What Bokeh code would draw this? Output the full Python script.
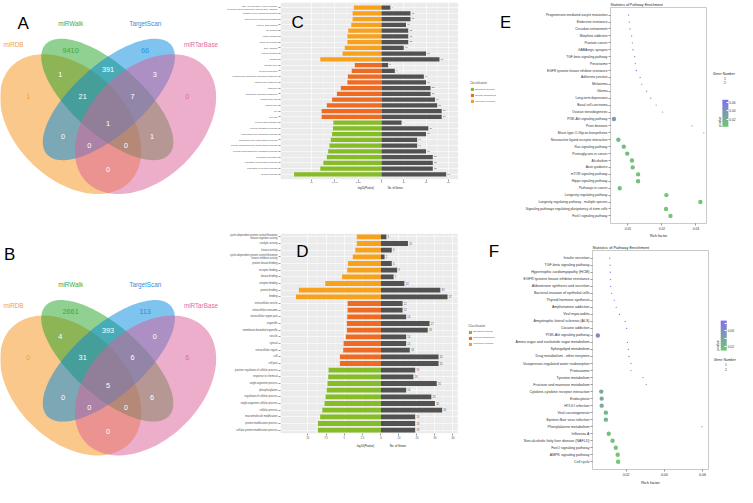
import math
from bokeh.plotting import figure
from bokeh.models import (Range1d, FactorRange, ColumnDataSource, FixedTicker,
                          CustomJSTickFormatter, PrintfTickFormatter, Legend,
                          LegendItem, ColorBar, LinearColorMapper, BoxAnnotation)
from bokeh.layouts import row, column
from bokeh.embed import file_html
from bokeh.resources import INLINE
from bokeh.core.properties import value

FONT = "Liberation Sans"
SX = 737 / 753
SY = 487 / 503
NB = "\u00a0"


def P(v, s):
    return int(round(v * s))

# ============================ DATA ============================
venn_set_names = ["miRDB", "miRWalk", "TargetScan", "miRTarBase"]
venn_region_names = ["miRDB", "miRWalk", "TargetScan", "miRTarBase",
                     "miRDB&miRWalk", "miRWalk&TargetScan", "TargetScan&miRTarBase",
                     "miRDB&miRWalk&TargetScan", "miRWalk&TargetScan&miRTarBase", "all",
                     "miRDB&TargetScan", "miRWalk&miRTarBase",
                     "miRDB&TargetScan&miRTarBase", "miRDB&miRWalk&miRTarBase", "miRDB&miRTarBase"]
venn_a_counts = [1, 9410, 66, 0, 1, 391, 3, 21, 7, 1, 0, 1, 0, 0, 0]
venn_b_counts = [0, 2661, 113, 6, 4, 393, 0, 31, 6, 5, 0, 6, 0, 0, 0]

classes = ["Biological Process", "Cellular Component", "Molecular Function"]

c_mf_terms = ["RNA polymerase II core promoter\nproximal region sequence-specific DNA binding",
              "organic cyclic compound binding", "heterocyclic compound binding",
              "nucleic acid binding", "ion binding", "cation binding", "metal ion binding",
              "DNA binding", "protein binding", "binding"]
c_mf_logp = [6.3, 6.6, 6.6, 6.9, 7.6, 7.8, 7.8, 8.4, 8.9, 14.0]
c_mf_genes = [4, 13, 13, 11, 12, 12, 12, 10, 20, 26]
c_cc_terms = ["growth cone", "neuron projection", "intracellular membrane-bounded organelle",
              "intracellular organelle", "organelle", "membrane-bounded organelle",
              "intracellular part", "intracellular", "cell", "cell part"]
c_cc_logp = [6.1, 6.8, 7.7, 7.8, 9.3, 10.2, 11.3, 12.5, 13.7, 13.7]
c_cc_genes = [3, 6, 19, 20, 22, 22, 24, 25, 27, 27]
c_bp_terms = ["neuron differentiation", "cellular metabolic process",
              "macromolecule metabolic process", "macromolecule biosynthetic process",
              "cellular macromolecule biosynthetic process",
              "cellular macromolecule metabolic process", "biological regulation",
              "regulation of biological process", "regulation of cellular process",
              "cellular process"]
c_bp_logp = [11.0, 11.1, 11.3, 11.6, 11.9, 12.2, 12.5, 13.3, 14.0, 20.0]
c_bp_genes = [9, 21, 20, 16, 16, 20, 23, 23, 23, 29]
c_logp_ticks = [16, 10.67, 5.33, 0]
c_gene_ticks = [10, 20, 30]

d_mf_terms = ["cyclin-dependent protein serine/threonine kinase regulator activity",
              "catalytic activity", "kinase activity",
              "cyclin-dependent protein serine/threonine kinase inhibitor activity",
              "protein kinase binding", "receptor binding", "kinase binding",
              "enzyme binding", "protein binding", "binding"]
d_mf_logp = [3.3, 3.3, 3.5, 3.85, 4.5, 4.6, 5.3, 7.6, 11.2, 11.6]
d_mf_genes = [3, 15, 6, 2, 6, 9, 7, 13, 33, 37]
d_cc_terms = ["extracellular vesicle", "extracellular exosome", "extracellular region part",
              "organelle", "membrane-bounded organelle", "vesicle", "cytosol",
              "extracellular region", "cell", "cell part"]
d_cc_logp = [4.55, 4.55, 4.6, 4.65, 4.65, 4.8, 5.1, 5.15, 5.6, 5.6]
d_cc_genes = [12, 12, 14, 27, 26, 14, 14, 16, 32, 32]
d_bp_terms = ["positive regulation of cellular process", "response to chemical",
              "single-organism process", "phosphorylation", "regulation of cellular process",
              "single-organism cellular process", "cellular process",
              "macromolecule modification", "protein modification process",
              "cellular protein modification process"]
d_bp_logp = [7.15, 7.2, 7.3, 7.4, 7.55, 7.7, 8.0, 8.3, 8.6, 8.6]
d_bp_genes = [19, 18, 31, 14, 28, 30, 34, 19, 19, 19]
d_logp_ticks = [10, 7.5, 5, 2.5, 0]
d_gene_ticks = [10, 20, 30, 40]

e_terms = ["Progesterone-mediated oocyte maturation", "Endocrine resistance",
           "Circadian entrainment", "Morphine addiction", "Prostate cancer",
           "GABAergic synapse", "TGF-beta signaling pathway", "Peroxisome",
           "EGFR tyrosine kinase inhibitor resistance", "Adherens junction", "Melanoma",
           "Glioma", "Long-term depression", "Basal cell carcinoma",
           "Ovarian steroidogenesis", "PI3K-Akt signaling pathway", "Prion diseases",
           "Mucin type O-Glycan biosynthesis", "Neuroactive ligand-receptor interaction",
           "Ras signaling pathway", "Proteoglycans in cancer", "Alcoholism", "Axon guidance",
           "mTOR signaling pathway", "Hippo signaling pathway", "Pathways in cancer",
           "Longevity regulating pathway", "Longevity regulating pathway - multiple species",
           "Signaling pathways regulating pluripotency of stem cells",
           "FoxO signaling pathway"]
e_rich = [0.0102, 0.0104, 0.0106, 0.0111, 0.0113, 0.0115, 0.0120, 0.0122, 0.0125, 0.0136,
          0.0141, 0.0155, 0.0167, 0.0183, 0.0202, 0.0059, 0.0288, 0.0323, 0.0072, 0.0088,
          0.0098, 0.0112, 0.0114, 0.0130, 0.0130, 0.0076, 0.0213, 0.0313, 0.0212, 0.0225]
e_genes = [1, 1, 1, 1, 1, 1, 1, 1, 1, 1, 1, 1, 1, 1, 1, 2, 1, 1, 2, 2,
           2, 2, 2, 2, 2, 2, 2, 2, 2, 2]
e_pval = [0.065, 0.064, 0.063, 0.060, 0.059, 0.058, 0.056, 0.055, 0.054, 0.049,
          0.048, 0.043, 0.040, 0.037, 0.033, 0.036, 0.026, 0.024, 0.012, 0.010,
          0.009, 0.008, 0.008, 0.006, 0.006, 0.004, 0.004, 0.003, 0.003, 0.002]
e_x_ticks = [0.01, 0.02, 0.03]
e_pval_ticks = [0.02, 0.04, 0.06]

f_terms = ["Insulin secretion", "TGF-beta signaling pathway",
           "Hypertrophic cardiomyopathy (HCM)", "EGFR tyrosine kinase inhibitor resistance",
           "Aldosterone synthesis and secretion", "Bacterial invasion of epithelial cells",
           "Thyroid hormone synthesis", "Amphetamine addiction", "Viral myocarditis",
           "Amyotrophic lateral sclerosis (ALS)", "Cocaine addiction",
           "PI3K-Akt signaling pathway", "Amino sugar and nucleotide sugar metabolism",
           "Sphingolipid metabolism", "Drug metabolism - other enzymes",
           "Vasopressin-regulated water reabsorption", "Proteasome", "Tyrosine metabolism",
           "Fructose and mannose metabolism", "Cytokine-cytokine receptor interaction",
           "Endocytosis", "HTLV-I infection", "Viral carcinogenesis",
           "Epstein-Barr virus infection", "Phenylalanine metabolism", "Influenza A",
           "Non-alcoholic fatty liver disease (NAFLD)", "FoxO signaling pathway",
           "AMPK signaling pathway", "Cell cycle"]
f_rich = [0.0114, 0.0116, 0.0117, 0.0119, 0.0119, 0.0124, 0.0138, 0.0148, 0.0165, 0.0195,
          0.0203, 0.0052, 0.0207, 0.0212, 0.0215, 0.0225, 0.0225, 0.0288, 0.0305, 0.0070,
          0.0072, 0.0072, 0.0094, 0.0094, 0.0597, 0.0109, 0.0129, 0.0146, 0.0156, 0.0158]
f_genes = [1, 1, 1, 1, 1, 1, 1, 1, 1, 1, 1, 2, 1, 1, 1, 1, 1, 1, 1, 2,
           2, 2, 2, 2, 1, 2, 2, 2, 2, 2]
f_pval = [0.085, 0.084, 0.084, 0.083, 0.083, 0.082, 0.080, 0.078, 0.075, 0.070,
          0.069, 0.060, 0.068, 0.067, 0.066, 0.064, 0.064, 0.055, 0.053, 0.035,
          0.034, 0.034, 0.026, 0.026, 0.030, 0.016, 0.013, 0.011, 0.010, 0.010]
f_x_ticks = [0.02, 0.04, 0.06]
f_pval_ticks = [0.02, 0.04, 0.06, 0.08]

gene_legend_values = [1, 2]

# ============================ STYLE / LAYOUT ============================
SET_FILL = ["#F39115", "#21A121", "#0087DF", "#DB5D97"]
SET_TEXT = ["#F5A034", "#3DAA3D", "#2C93DB", "#E06CA3"]
ELL_CX = [71.7, 109.2, 110.8, 148.3]
ELL_CY = [127.7, 102.2, 102.2, 127.7]
ELL_A = [84.9, 85.0, 85.0, 84.9]
ELL_B = [56.7, 35.7, 35.7, 56.7]
ELL_ANG = [-45, -42, 42, 45]
SET_LABEL_XY = [(13.3, 45), (71.7, 23.3), (148, 23.3), (205, 45)]
REGION_XY = [(28.3, 99), (71.7, 51.7), (147.7, 51.7), (191, 99), (61, 76.7), (110, 71),
             (157.7, 76.7), (84, 99), (135, 99), (110, 127.3), (64, 140), (155, 140),
             (90.7, 150), (128.3, 150), (110, 175)]
CLASS_COLOR = {"Biological Process": "#86BD26", "Cellular Component": "#F06B22",
               "Molecular Function": "#F7A11C"}
GREY_BAR = "#525252"
TXT = "#4D4D4D"
SIZE_PX = {1: 1.3, 2: 4.4}

COL2_X0, COL3_X0 = 227, 522
COL1_W = P(COL2_X0, SX)
COL2_W = P(COL3_X0 - COL2_X0, SX)
COL3_W = 737 - COL1_W - COL2_W


def lerp_palette(c1, c2, n):
    a = [int(c1[i:i + 2], 16) for i in (1, 3, 5)]
    b = [int(c2[i:i + 2], 16) for i in (1, 3, 5)]
    out = []
    for k in range(n):
        t = k / (n - 1)
        out.append("#%02x%02x%02x" % tuple(int(round(a[j] + (b[j] - a[j]) * t)) for j in range(3)))
    return out

PALETTE = lerp_palette("#72C872", "#8470EE", 64)
MAPPER_E = LinearColorMapper(palette=PALETTE, low=0.0015, high=0.066)
MAPPER_F = LinearColorMapper(palette=PALETTE, low=0.008, high=0.087)


def wrap2(t, maxlen):
    if "\n" in t or len(t) <= maxlen:
        return t
    words = t.split(" ")
    best = None
    for i in range(1, len(words)):
        a, b = " ".join(words[:i]), " ".join(words[i:])
        m = max(len(a), len(b))
        if best is None or m < best[0]:
            best = (m, a + "\n" + b)
    return best[1]


def ellipse_outline(cx, cy, a, b, ang_deg, n=160):
    phi = math.radians(ang_deg)
    xs, ys = [], []
    for k in range(n):
        t = 2 * math.pi * k / n
        ex, ey = a * math.cos(t), b * math.sin(t)
        xs.append(cx + ex * math.cos(phi) - ey * math.sin(phi))
        ys.append(cy + ex * math.sin(phi) + ey * math.cos(phi))
    return xs, ys


def plain_legend(lg, label_px, label_color, gw, gh, lh, standoff):
    lg.label_text_font = FONT
    lg.label_text_font_size = label_px
    lg.label_text_color = label_color
    lg.glyph_width = gw
    lg.glyph_height = gh
    lg.label_height = lh
    lg.label_standoff = standoff
    lg.padding = 0
    lg.margin = 0
    lg.spacing = 0
    lg.border_line_color = None
    lg.background_fill_alpha = 0
    return lg

# ---------------------------- Venn ----------------------------

def venn_fig(counts, letter, letter_xy, y0, y1, dy, h):
    p = figure(width=COL1_W, height=h, x_range=Range1d(0, COL2_X0), y_range=Range1d(-y1, -y0),
               output_backend="svg", toolbar_location=None, min_border=0,
               x_axis_location=None, y_axis_location=None)
    p.xgrid.visible = False
    p.ygrid.visible = False
    p.outline_line_color = None
    xs, ys = [], []
    for cx, cy, a, b, ang in zip(ELL_CX, ELL_CY, ELL_A, ELL_B, ELL_ANG):
        ex, ey = ellipse_outline(cx, -(cy + dy), a, b, ang)
        xs.append(ex)
        ys.append(ey)
    p.patches(xs=xs, ys=ys, fill_color=SET_FILL, fill_alpha=0.5, line_color=None)
    p.text(x=[xy[0] for xy in SET_LABEL_XY], y=[-(xy[1] + dy) for xy in SET_LABEL_XY],
           text=venn_set_names, text_color=SET_TEXT, text_font=value(FONT),
           text_font_size="6.3px", text_align="center", text_baseline="middle")
    cols = SET_TEXT + ["white"] * (len(counts) - 4)
    p.text(x=[xy[0] for xy in REGION_XY], y=[-(xy[1] + dy) for xy in REGION_XY],
           text=[str(c) for c in counts], text_color=cols, text_font=value(FONT),
           text_font_size="7.3px", text_align="center", text_baseline="middle")
    p.text(x=[letter_xy[0]], y=[-letter_xy[1]], text=[letter], text_color="black",
           text_font=value(FONT), text_font_size="17px", text_align="center",
           text_baseline="middle")
    return p

# ---------------------------- GO bar panels ----------------------------
JS_FMT = """
let k = 0, d = Infinity;
for (let i = 0; i < pos.length; i++) { const e = Math.abs(pos[i] - tick); if (e < d) { d = e; k = i; } }
return lab[k];
"""


def axis_style(ax, font_px, color):
    ax.axis_line_color = None
    ax.major_tick_line_color = "#333333"
    ax.major_tick_line_width = 0.5
    ax.major_tick_out = 2
    ax.major_tick_in = 0
    ax.minor_tick_line_color = None
    ax.major_label_text_font = FONT
    ax.major_label_text_font_size = "%.1fpx" % font_px
    ax.major_label_text_color = color
    ax.major_label_standoff = 1


def bar_fig(groups, fig_h, row_y0, frame, panel_right, zero_x, l_ppu, g_ppu, l_ticks,
            g_ticks, font_px, pad, letters, title_text, legend_xy):
    # frame spans to the column edge; the grey ggplot panel ends at panel_right
    xl, yt, xr, yb = frame
    bl = P(xl - COL2_X0, SX)
    fw = P(xr - xl, SX)
    br = COL2_W - bl - fw
    bt = P(yt - row_y0, SY)
    fh = P(yb - yt, SY)
    bb = fig_h - bt - fh
    L0, L1 = (zero_x - xl) / l_ppu, -(xr - zero_x) / l_ppu
    G0, G1 = -(zero_x - xl) / g_ppu, (xr - zero_x) / g_ppu
    cats, genes_all = [], []
    for cls, terms, logp, genes in groups:
        cats += [wrap2(t, 44) for t in terms]
        genes_all += genes
    p = figure(width=COL2_W, height=fig_h, x_range=Range1d(L0, L1),
               y_range=FactorRange(factors=cats[::-1], range_padding=pad,
                                   range_padding_units="absolute"),
               output_backend="svg", toolbar_location=None,
               min_border_left=bl, min_border_right=br, min_border_top=bt,
               min_border_bottom=bb)
    p.extra_x_ranges = {"genes": Range1d(G0, G1)}
    p.background_fill_color = "white"
    p.border_fill_color = "white"
    p.outline_line_color = None

    def px_to_main(xpx):
        return L0 + (xpx - xl) / (xr - xl) * (L1 - L0)
    p.add_layout(BoxAnnotation(left=L0, right=px_to_main(panel_right), fill_color="#EBEBEB",
                               fill_alpha=1, line_color=None, level="image"))

    def to_main(g):
        return L0 + (g - G0) / (G1 - G0) * (L1 - L0)
    tick_pos = list(l_ticks) + [to_main(g) for g in g_ticks]
    tick_lab = [("%g" % t) for t in l_ticks] + [str(g) for g in g_ticks]
    sp = sorted(tick_pos)
    minor = [(sp[i] + sp[i + 1]) / 2 for i in range(len(sp) - 1)]
    p.xgrid.ticker = FixedTicker(ticks=tick_pos, minor_ticks=minor)
    p.xgrid.grid_line_color = "white"
    p.xgrid.grid_line_width = 0.6
    p.xgrid.minor_grid_line_color = "white"
    p.xgrid.minor_grid_line_width = 0.3
    p.ygrid.grid_line_color = "white"
    p.ygrid.grid_line_width = 0.6

    rmap = {}
    for cls, terms, logp, genes in groups:
        src = ColumnDataSource(dict(y=[wrap2(t, 44) for t in terms], v=logp))
        rmap[cls] = p.hbar(y="y", left=0, right="v", height=0.72, fill_color=CLASS_COLOR[cls],
                           line_color=None, source=src)
    gsrc = ColumnDataSource(dict(y=cats, g=genes_all, t=[str(g) for g in genes_all]))
    p.hbar(y="y", left=0, right="g", height=0.72, fill_color=GREY_BAR, line_color=None,
           source=gsrc, x_range_name="genes")
    p.text(x="g", y="y", text="t", source=gsrc, x_range_name="genes", x_offset=1.2,
           text_font=value(FONT), text_font_size="%.1fpx" % font_px, text_color="#555555",
           text_baseline="middle")
    # panel letters (inside the frame): (x px, row index, offset px, letter)
    for lx, ri, off, lt in letters:
        p.text(x=[px_to_main(lx)], y=[cats[ri]], text=[lt], y_offset=off * SY,
               text_color="black", text_font=value(FONT), text_font_size="17px",
               text_align="center", text_baseline="middle")

    p.xaxis.ticker = FixedTicker(ticks=tick_pos)
    p.xaxis.formatter = CustomJSTickFormatter(args=dict(pos=tick_pos, lab=tick_lab), code=JS_FMT)
    axis_style(p.xaxis[0], font_px, TXT)
    axis_style(p.yaxis[0], font_px, TXT)
    p.xaxis.axis_label = title_text
    p.xaxis.axis_label_text_font = FONT
    p.xaxis.axis_label_text_font_size = "%.1fpx" % (font_px + 0.2)
    p.xaxis.axis_label_text_font_style = "normal"
    p.xaxis.axis_label_text_color = "#222222"
    p.xaxis.axis_label_standoff = 1

    leg = Legend(items=[LegendItem(label=c, renderers=[rmap[c]]) for c in classes],
                 title="Classification")
    plain_legend(leg, "2.4px", TXT, 4, 4, 4, 1)
    leg.spacing = 2
    leg.title_text_font = FONT
    leg.title_text_font_size = "2.9px"
    leg.title_text_color = TXT
    leg.title_standoff = 2
    leg.location = ((legend_xy[0] - xl) * SX, (yb - legend_xy[1]) * SY)
    p.add_layout(leg)
    return p

# ---------------------------- KEGG dot panels ----------------------------

def dot_fig(terms, rich, genes, pval, mapper, fig_w, fig_h, row_y0, frame, t1, p1, t2, p2,
            xticks, font_px, pad):
    xl, yt, xr, yb = frame
    bl = P(xl - COL3_X0, SX)
    fw = P(xr - xl, SX)
    br = fig_w - bl - fw
    bt = P(yt - row_y0, SY)
    fh = P(yb - yt, SY)
    bb = fig_h - bt - fh
    ppu = (p2 - p1) / (t2 - t1)
    x0 = t1 - (p1 - xl) / ppu
    x1 = t1 + (xr - p1) / ppu
    p = figure(width=fig_w, height=fig_h, x_range=Range1d(x0, x1),
               y_range=FactorRange(factors=terms[::-1], range_padding=pad,
                                   range_padding_units="absolute"),
               output_backend="svg", toolbar_location=None,
               min_border_left=bl, min_border_right=br, min_border_top=bt,
               min_border_bottom=bb)
    p.title.text = "Statistics of Pathway Enrichment"
    p.title.align = "left"
    p.title.text_font = FONT
    p.title.text_font_size = "%.1fpx" % (font_px + 0.3)
    p.title.text_font_style = "normal"
    p.title.text_color = "#222222"
    p.title.standoff = 1
    p.background_fill_color = "white"
    p.outline_line_color = "#BDBDBD"
    p.outline_line_width = 0.8
    p.xgrid.grid_line_color = None
    p.ygrid.grid_line_color = None
    src = ColumnDataSource(dict(x=rich, y=terms, s=[SIZE_PX[g] for g in genes], p=pval))
    p.scatter(x="x", y="y", size="s", source=src, line_color=None,
              fill_color={"field": "p", "transform": mapper})
    p.xaxis.ticker = FixedTicker(ticks=xticks)
    p.xaxis.formatter = PrintfTickFormatter(format="%.2f")
    axis_style(p.xaxis[0], font_px, "#333333")
    axis_style(p.yaxis[0], font_px, "#333333")
    p.xaxis.axis_label = "Rich factor"
    p.xaxis.axis_label_text_font = FONT
    p.xaxis.axis_label_text_font_size = "%.1fpx" % (font_px + 0.3)
    p.xaxis.axis_label_text_font_style = "normal"
    p.xaxis.axis_label_text_color = "#222222"
    p.xaxis.axis_label_standoff = 1
    return p


def legend_fig(fig_w, fig_h, row_y0, x0, mapper, pticks, cb_x, cb_bottom, cb_len,
               g_x, g1_bottom, g2_bottom):
    p = figure(width=fig_w, height=fig_h, x_range=Range1d(0, 1), y_range=Range1d(0, 1),
               output_backend="svg", toolbar_location=None, min_border=0,
               x_axis_location=None, y_axis_location=None)
    p.xgrid.visible = False
    p.ygrid.visible = False
    p.outline_line_color = None
    r1 = p.scatter(x=[], y=[], marker="circle", fill_color="black", line_color=None)
    r2 = p.scatter(x=[], y=[], marker="circle", fill_color="black", line_color=None)
    specs = [(r1, str(gene_legend_values[0]), "Gene Number", 4, g1_bottom),
             (r2, str(gene_legend_values[1]), None, 10, g2_bottom)]
    for r, lab, title, gh, bottom in specs:
        kw = {"title": title} if title else {}
        lg = Legend(items=[LegendItem(label=lab, renderers=[r])], **kw)
        lg.location = ((g_x - x0) * SX, fig_h - (bottom - row_y0) * SY)
        plain_legend(lg, "3.3px", "#333333", 10, gh, gh, 1)
        lg.title_text_font = FONT
        lg.title_text_font_size = "3.5px"
        lg.title_text_color = "#222222"
        lg.title_standoff = 1
        p.add_layout(lg)
    cb = ColorBar(color_mapper=mapper, ticker=FixedTicker(ticks=pticks),
                  formatter=PrintfTickFormatter(format="%.2f"), title="pvalue",
                  orientation="vertical", width=6, height=P(cb_len, SY))
    cb.location = ((cb_x - x0) * SX, fig_h - (cb_bottom - row_y0) * SY)
    cb.title_text_font = FONT
    cb.title_text_font_size = "3.5px"
    cb.title_text_font_style = "normal"
    cb.title_text_color = "#222222"
    cb.title_standoff = 1
    cb.major_label_text_font = FONT
    cb.major_label_text_font_size = "3.2px"
    cb.major_label_text_color = "#333333"
    cb.label_standoff = 1
    cb.major_tick_line_color = "white"
    cb.major_tick_in = 2
    cb.major_tick_out = 0
    cb.bar_line_color = None
    cb.border_line_color = None
    cb.background_fill_alpha = 0
    cb.padding = 0
    cb.margin = 0
    p.add_layout(cb)
    return p

# ============================ BUILD ============================
venn_a = venn_fig(venn_a_counts, "A", (23.3, 23.3), 0, 250, 0, P(250, SY))
venn_b = venn_fig(venn_b_counts, "B", (9.5, 262), 250, 503, 270, 487 - P(250, SY))

c_groups = [("Molecular Function", c_mf_terms, c_mf_logp, c_mf_genes),
            ("Cellular Component", c_cc_terms, c_cc_logp, c_cc_genes),
            ("Biological Process", c_bp_terms, c_bp_logp, c_bp_genes)]
d_groups = [("Molecular Function", d_mf_terms, d_mf_logp, d_mf_genes),
            ("Cellular Component", d_cc_terms, d_cc_logp, d_cc_genes),
            ("Biological Process", d_bp_terms, d_bp_logp, d_bp_genes)]
C_H = P(225, SY)
axis_title_c = "-log10(Pvalue)" + NB * 19 + "No. of Genes" + NB * 43
axis_title_d = "-log10(Pvalue)" + NB * 20 + "No. of Genes" + NB * 37
fig_c = bar_fig(c_groups, C_H, 0, (285, 2, COL3_X0, 185), 468, 389, 4.5, 2.3, c_logp_ticks,
                c_gene_ticks, 2.4, 0.4,
                [(302.7, 2, 3.3, "C"), (517, 2, 3.3, "E")], axis_title_c, (479, 107))
fig_d = bar_fig(d_groups, 487 - C_H, 225, (286.7, 241, COL3_X0, 448), 468, 389.5, 7.5, 1.84,
                d_logp_ticks, d_gene_ticks, 2.6, 0.0,
                [(309, 2, 1.7, "D"), (505, 2, 1.0, "F")], axis_title_d, (479, 358))

E_H = P(248, SY)
MAIN_W = P(724 - COL3_X0, SX)
LEG_W = COL3_W - MAIN_W
fig_e = dot_fig(e_terms, e_rich, e_genes, e_pval, MAPPER_E, MAIN_W, E_H, 0,
                (623, 5, 720.7, 234.5), 0.01, 640.7, 0.03, 710, e_x_ticks, 3.3, 0.6)
leg_e = legend_fig(LEG_W, E_H, 0, 724, MAPPER_E, e_pval_ticks, 730, 148, 28,
                   728, 101, 108.5)
fig_f = dot_fig(f_terms, f_rich, f_genes, f_pval, MAPPER_F, MAIN_W, 487 - E_H, 248,
                (605, 258, 723.3, 493), 0.02, 639.3, 0.06, 717.3, f_x_ticks, 3.6, 0.6)
leg_f = legend_fig(LEG_W, 487 - E_H, 248, 724, MAPPER_F, f_pval_ticks, 728.3, 380.3, 30.6,
                   729, 397.3, 406.5)

layout = row(column(venn_a, venn_b), column(fig_c, fig_d),
             column(row(fig_e, leg_e), row(fig_f, leg_f)))

open("out.html", "w").write(file_html(layout, INLINE))
